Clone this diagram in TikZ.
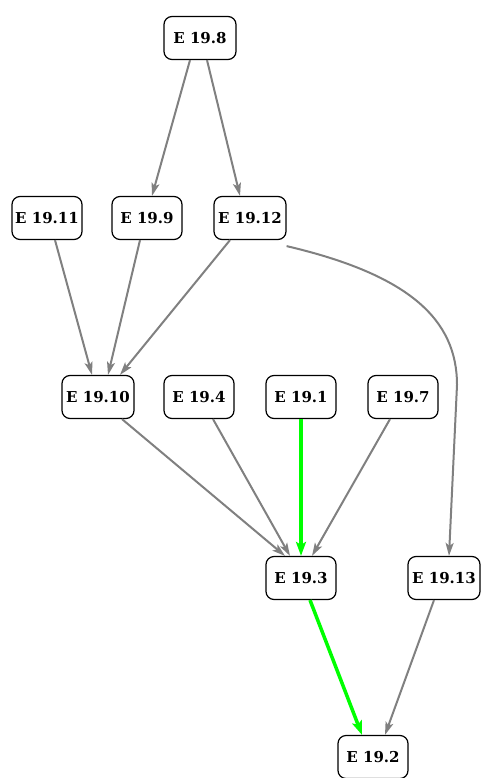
\documentclass[tikz,border=0pt]{standalone}
\usepackage{fontspec}
\setmainfont{DejaVu Serif}
\usetikzlibrary{arrows.meta}
\definecolor{edgegray}{HTML}{808080}
\definecolor{hot}{HTML}{00FF00}
\begin{document}
\begin{tikzpicture}[x=1pt,y=-1pt,
  box/.style={draw=black, line width=1.2pt, rounded corners=8pt, minimum height=43pt, inner sep=0pt, font=\fontsize{15}{17}\selectfont\bfseries, fill=white},
  wbox/.style={box, minimum width=72pt},
  nbox/.style={box, minimum width=70pt},
  edge/.style={draw=edgegray, line width=2pt, -{Stealth[length=13pt,width=8pt,inset=3pt]}},
  hotedge/.style={draw=hot, line width=3.5pt, -{Stealth[length=14pt,width=10pt,inset=3pt]}}]
\useasboundingbox (0,0) rectangle (485,778);
\node[wbox] (n8)  at (200,38) {E 19.8};
\node[nbox] (n11) at (47,218) {E 19.11};
\node[nbox] (n9)  at (147,218) {E 19.9};
\node[wbox] (n12) at (250,218) {E 19.12};
\node[wbox] (n10) at (98,397) {E 19.10};
\node[nbox] (n4)  at (199,397) {E 19.4};
\node[nbox] (n1)  at (301,397) {E 19.1};
\node[nbox] (n7)  at (403,397) {E 19.7};
\node[nbox] (n3)  at (301,578) {E 19.3};
\node[wbox] (n13) at (444,578) {E 19.13};
\node[nbox] (n2)  at (373,757) {E 19.2};
\coordinate (bend) at (457,385);
\draw[edge] ([xshift=-10pt]n8.south) -- ([xshift=5pt]n9.north);
\draw[edge] ([xshift=7pt]n8.south) -- ([xshift=-10pt]n12.north);
\draw[edge] ([xshift=8pt]n11.south) -- ([xshift=-6pt]n10.north);
\draw[edge] ([xshift=-7pt]n9.south) -- ([xshift=10pt]n10.north);
\draw[edge] ([xshift=-20pt]n12.south) -- ([xshift=22pt]n10.north);
\draw[edge] ([yshift=-6pt]n12.south east) .. controls (410,275) and (457,320) .. (bend) -- ([xshift=5pt]n13.north);
\draw[edge] ([xshift=24pt]n10.south) -- ([xshift=-16pt]n3.north);
\draw[edge] ([xshift=14pt]n4.south) -- ([xshift=-11pt]n3.north);
\draw[edge] ([xshift=-13pt]n7.south) -- ([xshift=11pt]n3.north);
\draw[edge] ([xshift=-10pt]n13.south) -- ([xshift=12pt]n2.north);
\draw[hotedge] (n1.south) -- (n3.north);
\draw[hotedge] ([xshift=9pt]n3.south) -- ([xshift=-11pt]n2.north);
\end{tikzpicture}
\end{document}
